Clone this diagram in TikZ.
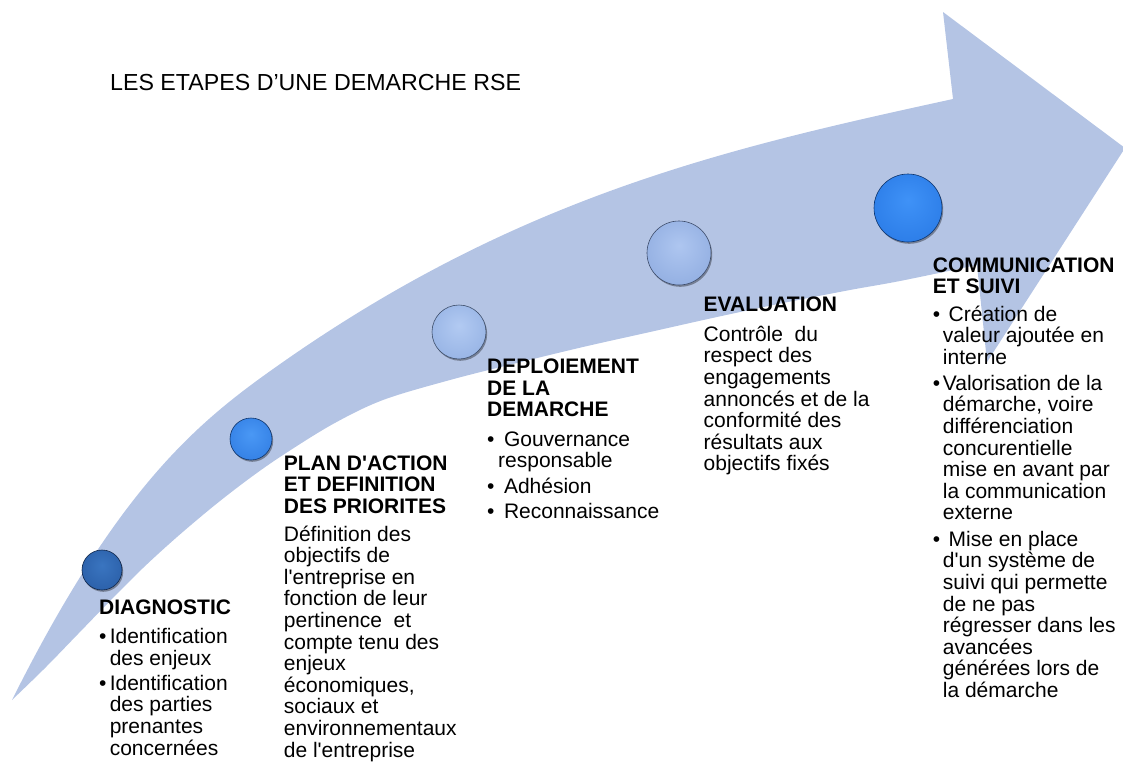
\documentclass[tikz,border=0pt]{standalone}
\usepackage{fontspec}
\setmainfont{Liberation Sans}[Ligatures=TeXOff]
\usetikzlibrary{shadows}
\definecolor{arrowblue}{HTML}{B4C4E4}
\definecolor{c1in}{HTML}{3A75C0}\definecolor{c1out}{HTML}{1D4C94}
\definecolor{c2in}{HTML}{4A98F5}\definecolor{c2out}{HTML}{1F6AD6}
\definecolor{c3in}{HTML}{B2CAF2}\definecolor{c3out}{HTML}{7E9FD8}
\definecolor{c4in}{HTML}{AEC6F0}\definecolor{c4out}{HTML}{7999D4}
\definecolor{c5in}{HTML}{3F92F7}\definecolor{c5out}{HTML}{1A69D9}
\colorlet{ballin}{blue}\colorlet{ballout}{blue}
\pgfdeclareradialshading[ballin,ballout]{glossball}{\pgfpoint{0bp}{6bp}}{color(0bp)=(ballin); color(26bp)=(ballin!55!ballout); color(40bp)=(ballout); color(50bp)=(ballout!70!black)}
\newcommand\mybul[1][10pt]{\makebox[#1][l]{•}}
\newcommand\myind[1][10pt]{\hspace*{#1}}
\begin{document}
\begin{tikzpicture}[x=1pt,y=-1pt,
  txt/.style={inner sep=0pt, anchor=north west, align=left, font=\fontsize{21}{21.6}\selectfont},
  ballcol/.code 2 args={\colorlet{ballin}{#1}\colorlet{ballout}{#2}},
  ball/.style={circle, inner sep=0pt, shading=glossball, draw=ballout!50!black, line width=0.6pt,
    drop shadow={shadow xshift=1.2pt, shadow yshift=-1.8pt, opacity=0.35, fill=black}}]
\useasboundingbox (0,0) rectangle (1123,763);
% arrow
\fill[arrowblue] (12,700) .. controls (122,480) and (203,418) .. (283,362)
  .. controls (523,194) and (733,147) .. (953,99)
  -- (943,12) -- (1125,148) -- (987,362)
  -- plot[smooth, tension=0.55] coordinates {(977,265) (900,281) (850,290) (783,303) (717,317) (650,332) (583,347) (517,363) (450,380) (383,400) (333,424) (283,455) (250,478) (215,505) (177,537) (143,568) (110,601) (78,634) (45,668) (12,700)} -- cycle;
% balls
\node[ballcol={c1in}{c1out}, ball, minimum size=40pt] (c1) at (102,570) {};
\node[ballcol={c2in}{c2out}, ball, minimum size=42pt] (c2) at (251,439) {};
\node[ballcol={c3in}{c3out}, ball, minimum size=54pt] (c3) at (459,332) {};
\node[ballcol={c4in}{c4out}, ball, minimum size=64pt] (c4) at (679,253) {};
\node[ballcol={c5in}{c5out}, ball, minimum size=68pt] (c5) at (908,208) {};
% title
\node[anchor=base west, inner sep=0pt, font=\fontsize{23.2}{26}\selectfont] (title) at (110,90) {LES ETAPES D’UNE DEMARCHE RSE};
% texts
\node[txt] (diag) at (99,598.5) {\rule{0pt}{16pt}\textbf{DIAGNOSTIC}\\[7.4pt]
\mybul[10.6pt]Identification\\
\myind[10.6pt]des enjeux\\[3.4pt]
\mybul[10.6pt]Identification\\
\myind[10.6pt]des parties\\
\myind[10.6pt]prenantes\\
\myind[10.6pt]concernées};
\node[txt] (plan) at (283.7,454) {\rule{0pt}{16pt}\textbf{PLAN D'ACTION}\\ \textbf{ET DEFINITION}\\ \textbf{DES PRIORITES}\\[6pt]
Définition des\\ objectifs de\\ l'entreprise en\\ fonction de leur\\ pertinence\ \ et\\ compte tenu des\\ enjeux\\ économiques,\\ sociaux et\\ environnementaux\\ de l'entreprise};
\node[txt] (depl) at (487,357.5) {\rule{0pt}{16pt}\textbf{DEPLOIEMENT}\\ \textbf{DE LA}\\ \textbf{DEMARCHE}\\[7.7pt]
\mybul[11pt]\ Gouvernance\\ \myind[11pt]responsable\\[4.3pt]
\mybul[11pt]\ Adhésion\\[3.4pt]
\mybul[11pt]\ Reconnaissance};
\node[txt] (eval) at (703.5,295.7) {\rule{0pt}{16pt}\textbf{EVALUATION}\\[7.7pt]
Contrôle\ \ du\\ respect des\\ engagements\\ annoncés et de la\\ conformité des\\ résultats aux\\ objectifs fixés};
\node[txt] (comm) at (932.7,256) {\rule{0pt}{16pt}\textbf{COMMUNICATION}\\ \textbf{ET SUIVI}\\[5.8pt]
\mybul\ Création de\\ \myind valeur ajoutée en\\ \myind interne\\[4.2pt]
\mybul Valorisation de la\\ \myind démarche, voire\\ \myind différenciation\\ \myind concurentielle\\ \myind mise en avant par\\ \myind la communication\\ \myind externe\\[4.8pt]
\mybul\ Mise en place\\ \myind d'un système de\\ \myind suivi qui permette\\ \myind de ne pas\\ \myind régresser dans les\\ \myind avancées\\ \myind générées lors de\\ \myind la démarche};
\end{tikzpicture}
\end{document}
